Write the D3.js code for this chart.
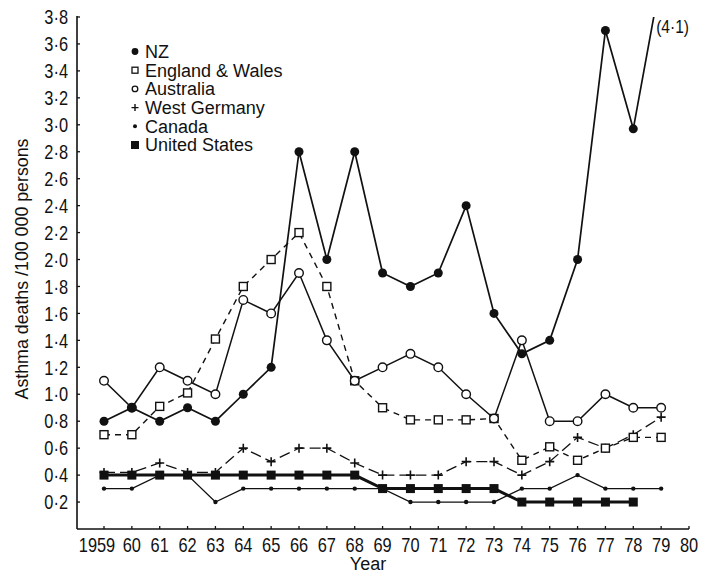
<!DOCTYPE html>
<html><head><meta charset="utf-8">
<script src="https://cdn.jsdelivr.net/npm/d3@7"></script>
<style>
body{margin:0;background:#fff;}
text{font-family:"Liberation Sans",Arial,sans-serif;fill:#111;}
</style></head>
<body><svg id="c" width="713" height="575"></svg>
<script>
const years = [1959,1960,1961,1962,1963,1964,1965,1966,1967,1968,1969,1970,1971,1972,1973,1974,1975,1976,1977,1978,1979];
const nz        = [0.8,0.9,0.8,0.9,0.8,1.0,1.2,2.8,2.0,2.8,1.9,1.8,1.9,2.4,1.6,1.3,1.4,2.0,3.7,2.97,4.1];
const england   = [0.7,0.7,0.91,1.01,1.41,1.8,2.0,2.2,1.8,1.1,0.9,0.81,0.81,0.81,0.82,0.51,0.61,0.51,0.6,0.68,0.68];
const australia = [1.1,0.9,1.2,1.1,1.0,1.7,1.6,1.9,1.4,1.1,1.2,1.3,1.2,1.0,0.82,1.4,0.8,0.8,1.0,0.9,0.9];
const wgermany  = [0.42,0.42,0.49,0.42,0.42,0.6,0.5,0.6,0.6,0.49,0.4,0.4,0.4,0.5,0.5,0.4,0.5,0.68,0.6,0.7,0.83];
const canada    = [0.3,0.3,0.4,0.4,0.2,0.3,0.3,0.3,0.3,0.3,0.3,0.2,0.2,0.2,0.2,0.3,0.3,0.4,0.3,0.3,0.3];
const usa       = [0.4,0.4,0.4,0.4,0.4,0.4,0.4,0.4,0.4,0.4,0.3,0.3,0.3,0.3,0.3,0.2,0.2,0.2,0.2,0.2,null];
const seriesNames = ["NZ","England & Wales","Australia","West Germany","Canada","United States"];
const xTicks = [1959,1960,1961,1962,1963,1964,1965,1966,1967,1968,1969,1970,1971,1972,1973,1974,1975,1976,1977,1978,1979,1980];
const yTicks = [0.2,0.4,0.6,0.8,1.0,1.2,1.4,1.6,1.8,2.0,2.2,2.4,2.6,2.8,3.0,3.2,3.4,3.6,3.8];
const yTitle = "Asthma deaths /100 000 persons";
const xTitle = "Year";
const offNote = "(4·1)";

const svg = d3.select("#c");
const x = d3.scaleLinear().domain([1959,1980]).range([104,689]);
const y = d3.scaleLinear().domain([0,3.8]).range([529,17]);
const SX = 0.82; // horizontal condensing of tick label glyphs

// axes
const xAxis = svg.append("g").attr("transform","translate(0,"+y(0)+")");
xAxis.append("line").attr("x1",77).attr("x2",x(1980)).attr("stroke","#111").attr("stroke-width",1.6);
const xt = xAxis.selectAll(".t").data(xTicks).enter().append("g").attr("transform",d=>"translate("+x(d)+",0)");
xt.append("line").attr("y1",0).attr("y2",-3).attr("stroke","#111").attr("stroke-width",1.3);
xt.append("text").attr("transform",`scale(${SX},1)`).attr("y",23).attr("text-anchor","middle").attr("font-size",20)
  .attr("dx",d=>d===1959?-7/SX:0)
  .text(d=>d===1959?"1959":String(d%100).padStart(2,"0"));

const yAxis = svg.append("g").attr("transform","translate(77,0)");
yAxis.append("line").attr("y1",y(0)).attr("y2",y(3.8)-1).attr("stroke","#111").attr("stroke-width",1.6);
const yt = yAxis.selectAll(".t").data(yTicks).enter().append("g").attr("transform",d=>"translate(0,"+y(d)+")");
yt.append("line").attr("x1",0).attr("x2",3).attr("stroke","#111").attr("stroke-width",1.3);
yt.append("text").attr("transform",`scale(${SX},1)`).attr("x",-9/SX).attr("dy","0.36em").attr("text-anchor","end").attr("font-size",20)
  .text(d=>d3.format(".1f")(d).replace(".","·"));

svg.append("text").attr("transform","translate(28,269) rotate(-90)").attr("text-anchor","middle")
  .attr("font-size",17.8).text(yTitle);
svg.append("text").attr("x",368).attr("y",570).attr("text-anchor","middle").attr("font-size",18).text(xTitle);

// clip
svg.append("defs").append("clipPath").attr("id","clip").append("rect")
  .attr("x",0).attr("y",y(3.8)).attr("width",713).attr("height",575);

const plot = svg.append("g");
function mk(vals){return years.map((yr,i)=>({yr,v:vals[i]})).filter(d=>d.v!=null);}
const line = d3.line().x(d=>x(d.yr)).y(d=>y(d.v));

function marker(g, type, cx, cy){
  if(type==="fcircle") g.append("circle").attr("cx",cx).attr("cy",cy).attr("r",4.5).attr("fill","#111");
  else if(type==="ocircle") g.append("circle").attr("cx",cx).attr("cy",cy).attr("r",4.3).attr("fill","#fff").attr("stroke","#111").attr("stroke-width",1.4);
  else if(type==="osquare") g.append("rect").attr("x",cx-4).attr("y",cy-4).attr("width",8).attr("height",8).attr("fill","#fff").attr("stroke","#111").attr("stroke-width",1.4);
  else if(type==="fsquare") g.append("rect").attr("x",cx-4.5).attr("y",cy-4.5).attr("width",9).attr("height",9).attr("fill","#111");
  else if(type==="dot") g.append("circle").attr("cx",cx).attr("cy",cy).attr("r",2.2).attr("fill","#111");
  else if(type==="plus"){
    g.append("path").attr("d",`M${cx-4.5},${cy}H${cx+4.5}M${cx},${cy-4.5}V${cy+4.5}`).attr("stroke","#111").attr("stroke-width",1.6);
  }
}

const series = [
  {name:seriesNames[5], vals:usa, type:"fsquare", dash:null, w:3},
  {name:seriesNames[4], vals:canada, type:"dot", dash:null, w:1.3},
  {name:seriesNames[3], vals:wgermany, type:"plus", dash:"11,5", w:1.3},
  {name:seriesNames[1], vals:england, type:"osquare", dash:"6,5", w:1.4},
  {name:seriesNames[2], vals:australia, type:"ocircle", dash:null, w:1.5},
  {name:seriesNames[0], vals:nz, type:"fcircle", dash:null, w:1.7},
];
series.forEach(s=>{
  const d = mk(s.vals);
  plot.append("path").datum(d).attr("d",line).attr("fill","none").attr("stroke","#111")
    .attr("stroke-width",s.w).attr("stroke-dasharray",s.dash).attr("clip-path","url(#clip)");
});
series.forEach(s=>{
  const g = plot.append("g");
  mk(s.vals).filter(d=>d.v<=3.8).forEach(d=>marker(g,s.type,x(d.yr),y(d.v)));
});

svg.append("text").attr("transform",`translate(${x(1979)-5},${y(3.68)}) scale(${SX},1)`).attr("font-size",19).text(offNote);

// legend
const legTypes = ["fcircle","osquare","ocircle","plus","dot","fsquare"];
const lg = svg.append("g");
seriesNames.forEach((n,i)=>{
  const cy = 51.5 + i*18.7;
  const g = lg.append("g");
  const t = legTypes[i];
  const mx = 135;
  if(t==="fcircle") g.append("circle").attr("cx",mx).attr("cy",cy).attr("r",3.4).attr("fill","#111");
  else if(t==="osquare") g.append("rect").attr("x",mx-3).attr("y",cy-3).attr("width",6).attr("height",6).attr("fill","#fff").attr("stroke","#111").attr("stroke-width",1.3);
  else if(t==="ocircle") g.append("circle").attr("cx",mx).attr("cy",cy).attr("r",2.8).attr("fill","#fff").attr("stroke","#111").attr("stroke-width",1.3);
  else if(t==="plus") g.append("path").attr("d",`M${mx-3.5},${cy}H${mx+3.5}M${mx},${cy-3.5}V${cy+3.5}`).attr("stroke","#111").attr("stroke-width",1.4);
  else if(t==="dot") g.append("circle").attr("cx",mx).attr("cy",cy).attr("r",2).attr("fill","#111");
  else g.append("rect").attr("x",mx-4).attr("y",cy-4).attr("width",8).attr("height",8).attr("fill","#111");
  g.append("text").attr("x",145).attr("y",cy).attr("dy","0.36em").attr("font-size",18).text(n);
});
</script></body></html>
